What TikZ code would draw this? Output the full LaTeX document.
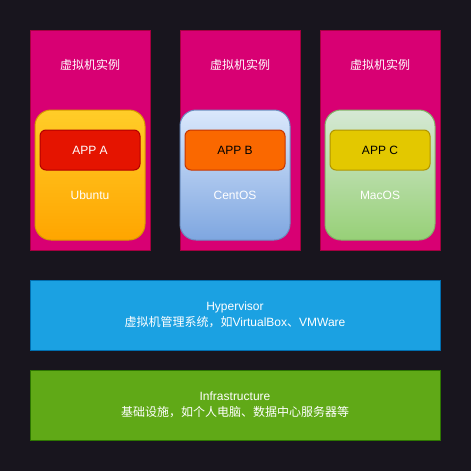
\documentclass[tikz,border=0pt]{standalone}
\usepackage{fontspec}
\setmainfont{Liberation Sans}
\newfontfamily\cjk{Noto Sans CJK SC}
\definecolor{bgc}{HTML}{18151E}
\definecolor{vmfill}{HTML}{D80073}
\definecolor{vmline}{HTML}{A50040}
\definecolor{ubt}{HTML}{FFCD28}
\definecolor{ubb}{HTML}{FFA500}
\definecolor{ubl}{HTML}{D79B00}
\definecolor{cet}{HTML}{DAE8FC}
\definecolor{ceb}{HTML}{7EA6E0}
\definecolor{cel}{HTML}{6C8EBF}
\definecolor{mat}{HTML}{D5E8D4}
\definecolor{mab}{HTML}{97D077}
\definecolor{mal}{HTML}{82B366}
\definecolor{apa}{HTML}{E51400}
\definecolor{apal}{HTML}{B20000}
\definecolor{apb}{HTML}{FA6800}
\definecolor{apbl}{HTML}{C73500}
\definecolor{apc}{HTML}{E3C800}
\definecolor{apcl}{HTML}{B09500}
\definecolor{hyf}{HTML}{1BA1E2}
\definecolor{hyl}{HTML}{006EAF}
\definecolor{inf}{HTML}{60A917}
\definecolor{inl}{HTML}{2D7600}
\begin{document}
\begin{tikzpicture}[x=1pt,y=-1pt,
  txt/.style={font=\fontsize{12}{16}\selectfont, text=white, inner sep=0pt, align=center},
  vmbox/.style={draw=vmline, fill=vmfill, line width=1pt, minimum width=120pt, minimum height=220pt, inner sep=0pt},
  osbox/.style={line width=1pt, rounded corners=16pt, minimum width=110pt, minimum height=130pt, inner sep=0pt},
  appbox/.style={line width=1pt, rounded corners=6pt, minimum width=100pt, minimum height=40pt, inner sep=0pt, font=\fontsize{12}{14}\selectfont},
  layer/.style={line width=1pt, minimum width=410pt, minimum height=70pt, inner sep=0pt, font=\fontsize{12}{16}\selectfont, text=white, align=center}
]
\useasboundingbox (0,0) rectangle (471,471);
\fill[bgc] (0,0) rectangle (471,471);

% VM containers
\node[vmbox] (vm1) at (90,140) {};
\node[vmbox] (vm2) at (240,140) {};
\node[vmbox] (vm3) at (380,140) {};
\node[txt] (t1) at (90,65) {\cjk 虚拟机实例};
\node[txt] (t2) at (240,65) {\cjk 虚拟机实例};
\node[txt] (t3) at (380,65) {\cjk 虚拟机实例};

% OS boxes
\node[osbox, draw=ubl, top color=ubt, bottom color=ubb] (os1) at (90,175) {};
\node[osbox, draw=cel, top color=cet, bottom color=ceb] (os2) at (235,175) {};
\node[osbox, draw=mal, top color=mat, bottom color=mab] (os3) at (380,175) {};
\node[txt] (l1) at (90,195) {Ubuntu};
\node[txt] (l2) at (235,195) {CentOS};
\node[txt] (l3) at (380,195) {MacOS};

% Apps
\node[appbox, draw=apal, fill=apa, text=white] (a1) at (90,150) {APP A};
\node[appbox, draw=apbl, fill=apb, text=black] (a2) at (235,150) {APP B};
\node[appbox, draw=apcl, fill=apc, text=black] (a3) at (380,150) {APP C};

% Layers
\node[layer, draw=hyl, fill=hyf] (hyp) at (235,315) {Hypervisor\\{\cjk 虚拟机管理系统，如}VirtualBox{\cjk 、}VMWare};
\node[layer, draw=inl, fill=inf] (infra) at (235,405) {Infrastructure\\{\cjk 基础设施，如个人电脑、数据中心服务器等}};
\end{tikzpicture}
\end{document}
